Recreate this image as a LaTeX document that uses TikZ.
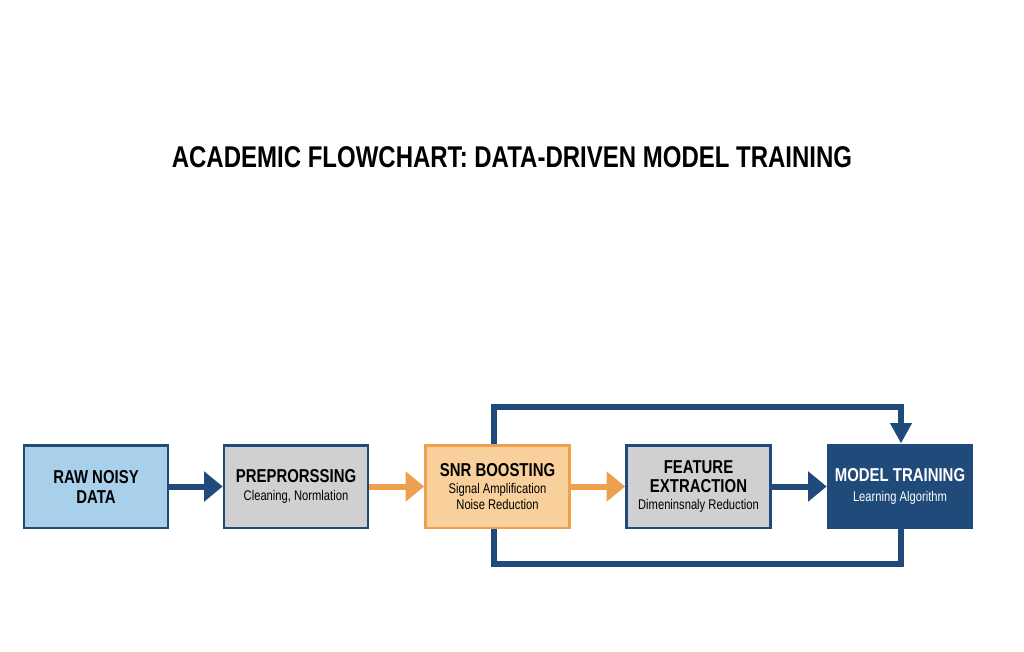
\documentclass[tikz,border=0pt]{standalone}
\usepackage{fontspec}
\setmainfont{Liberation Sans}[FakeStretch=0.8]
\usetikzlibrary{arrows.meta}
\definecolor{dblue}{HTML}{1F4A7A}
\definecolor{lblue}{HTML}{A9D0EA}
\definecolor{gbox}{HTML}{D0D0D2}
\definecolor{obox}{HTML}{F9D09C}
\definecolor{oline}{HTML}{EFA04E}
\newcommand{\bt}[1]{\textbf{\fontsize{14}{17}\selectfont #1}}
\newcommand{\st}[1]{{\fontsize{10.5}{13}\selectfont #1}}
\tikzset{
 box/.style={draw=dblue,line width=2pt,minimum width=108pt,minimum height=62pt,align=center,inner sep=0pt},
 flow/.style={line width=4.5pt,-{Triangle[length=14pt,width=22pt]}},
 loop/.style={draw=dblue,line width=4pt}
}
\begin{document}
\begin{tikzpicture}[x=0.75pt,y=-0.75pt]
\useasboundingbox (0,0) rectangle (1024,652);
\node[font=\bfseries\fontsize{22.5}{27}\selectfont] (title) at (512,157) {ACADEMIC FLOWCHART: DATA-DRIVEN MODEL TRAINING};
\node[box,fill=lblue] (raw) at (96,486.5) {\bt{RAW NOISY}\\[3pt]\bt{DATA}};
\node[box,fill=gbox] (pre) at (296,486.5) {\bt{PREPRORSSING}\\[1pt]\st{Cleaning, Normlation}};
\node[box,fill=obox,draw=oline] (snr) at (497.5,486.5) {\bt{SNR BOOSTING}\\[1pt]\st{Signal Amplification}\\\st{Noise Reduction}};
\node[box,fill=gbox] (fea) at (698.5,486.5) {\bt{FEATURE}\\[2pt]\bt{EXTRACTION}\\[1pt]\st{Dimeninsnaly Reduction}};
\node[box,fill=dblue,text=white] (mod) at (900,486.5) {\bt{MODEL TRAINING}\\[3pt]\st{Learning Algorithm}};
\draw[flow,dblue] (raw) -- (pre);
\draw[flow,oline] (pre) -- (snr);
\draw[flow,oline] (snr) -- (fea);
\draw[flow,dblue] (fea) -- (mod);
\coordinate (t1) at (494,407);
\coordinate (t2) at (901,407);
\coordinate (b1) at (494,564);
\coordinate (b2) at (901,564);
\draw[loop] (snr.north -| t1) -- (t1) -- (t2) -- ([yshift=14pt]mod.north -| t2);
\draw[dblue,fill=dblue] ([yshift=1pt]mod.north -| t2) -- ++(-10.5,-19) -- ++(21,0) -- cycle;
\draw[loop] (snr.south -| b1) -- (b1) -- (b2) -- (mod.south -| b2);
\end{tikzpicture}
\end{document}
